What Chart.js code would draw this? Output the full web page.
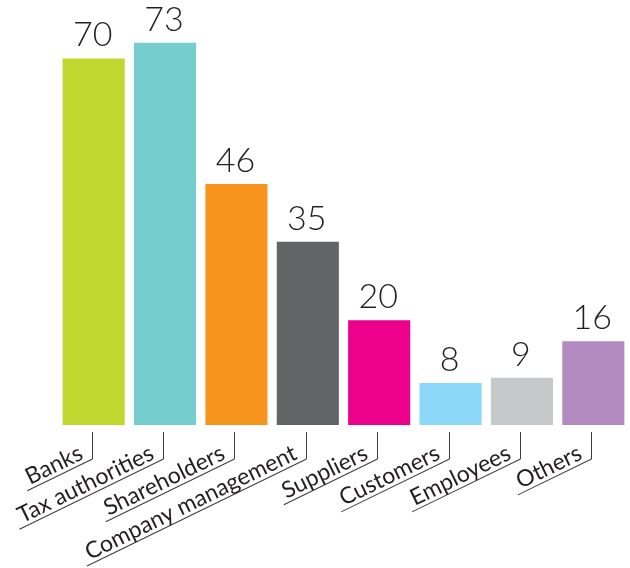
<!DOCTYPE html>
<html>
<head>
<meta charset="utf-8">
<script src="https://cdn.jsdelivr.net/npm/chart.js@4.4.0/dist/chart.umd.min.js"></script>
<style>
  html, body { margin: 0; padding: 0; background: #fff; }
  #wrap { width: 630px; height: 568px; position: relative; }
</style>
</head>
<body>
<div id="wrap"><canvas id="myChart"></canvas></div>
<script>
const categories = ['Banks', 'Tax authorities', 'Shareholders', 'Company management', 'Suppliers', 'Customers', 'Employees', 'Others']
const values = [70, 73, 46, 35, 20, 8, 9, 16]
const barColors = ['#c0d72f', '#76cdce', '#f7941e', '#636466', '#ec008c', '#8dd8f8', '#c7c8ca', '#b28abf']

const textColor = '#231f20'

// numbers over the bars + slanted category labels with their little leader lines
const labelPlugin = {
  id: 'barLabels',
  afterDatasetsDraw(chart) {
    const ctx = chart.ctx
    const meta = chart.getDatasetMeta(0)
    const xScale = chart.scales.x
    const bottom = chart.chartArea.bottom

    ctx.save()
    ctx.font = '300 34px Lato'
    ctx.fillStyle = textColor
    ctx.textAlign = 'center'
    ctx.textBaseline = 'alphabetic'
    meta.data.forEach((bar, i) => {
      ctx.fillText(values[i], bar.x - 1, bar.y - 12)
    })
    ctx.restore()

    const angle = 26 * Math.PI / 180
    categories.forEach((cat, i) => {
      const x = Math.round(xScale.getPixelForValue(i)) - 1.5
      ctx.save()
      ctx.strokeStyle = '#3c3c3c'
      ctx.lineWidth = 1
      ctx.beginPath()
      ctx.moveTo(x, bottom + 7)
      ctx.lineTo(x, bottom + 34)
      ctx.stroke()

      ctx.translate(x, bottom + 34)
      ctx.rotate(-angle)
      ctx.font = '23px Lato'
      const w = ctx.measureText(cat).width
      ctx.beginPath()
      ctx.moveTo(0, 0)
      ctx.lineTo(-(w + 12), 0)
      ctx.stroke()
      ctx.fillStyle = textColor
      ctx.textAlign = 'right'
      ctx.fillText(cat, -7, -4)
      ctx.restore()
    })
  }
}

const ctx = document.getElementById('myChart')

const myChart = new Chart(ctx, {
  type: 'bar',
  data: {
    labels: categories,
    datasets: [{
      data: values,
      backgroundColor: barColors,
      borderWidth: 0,
      barPercentage: 0.87,
      categoryPercentage: 1
    }]
  },
  options: {
    responsive: true,
    maintainAspectRatio: false,
    animation: false,
    layout: { padding: { left: 58, right: 1, top: 6, bottom: 143 } },
    plugins: {
      legend: { display: false },
      tooltip: { enabled: false }
    },
    scales: {
      x: { display: false },
      y: { display: false, min: 0, max: 80 }
    }
  },
  plugins: [labelPlugin]
})
</script>
</body>
</html>
